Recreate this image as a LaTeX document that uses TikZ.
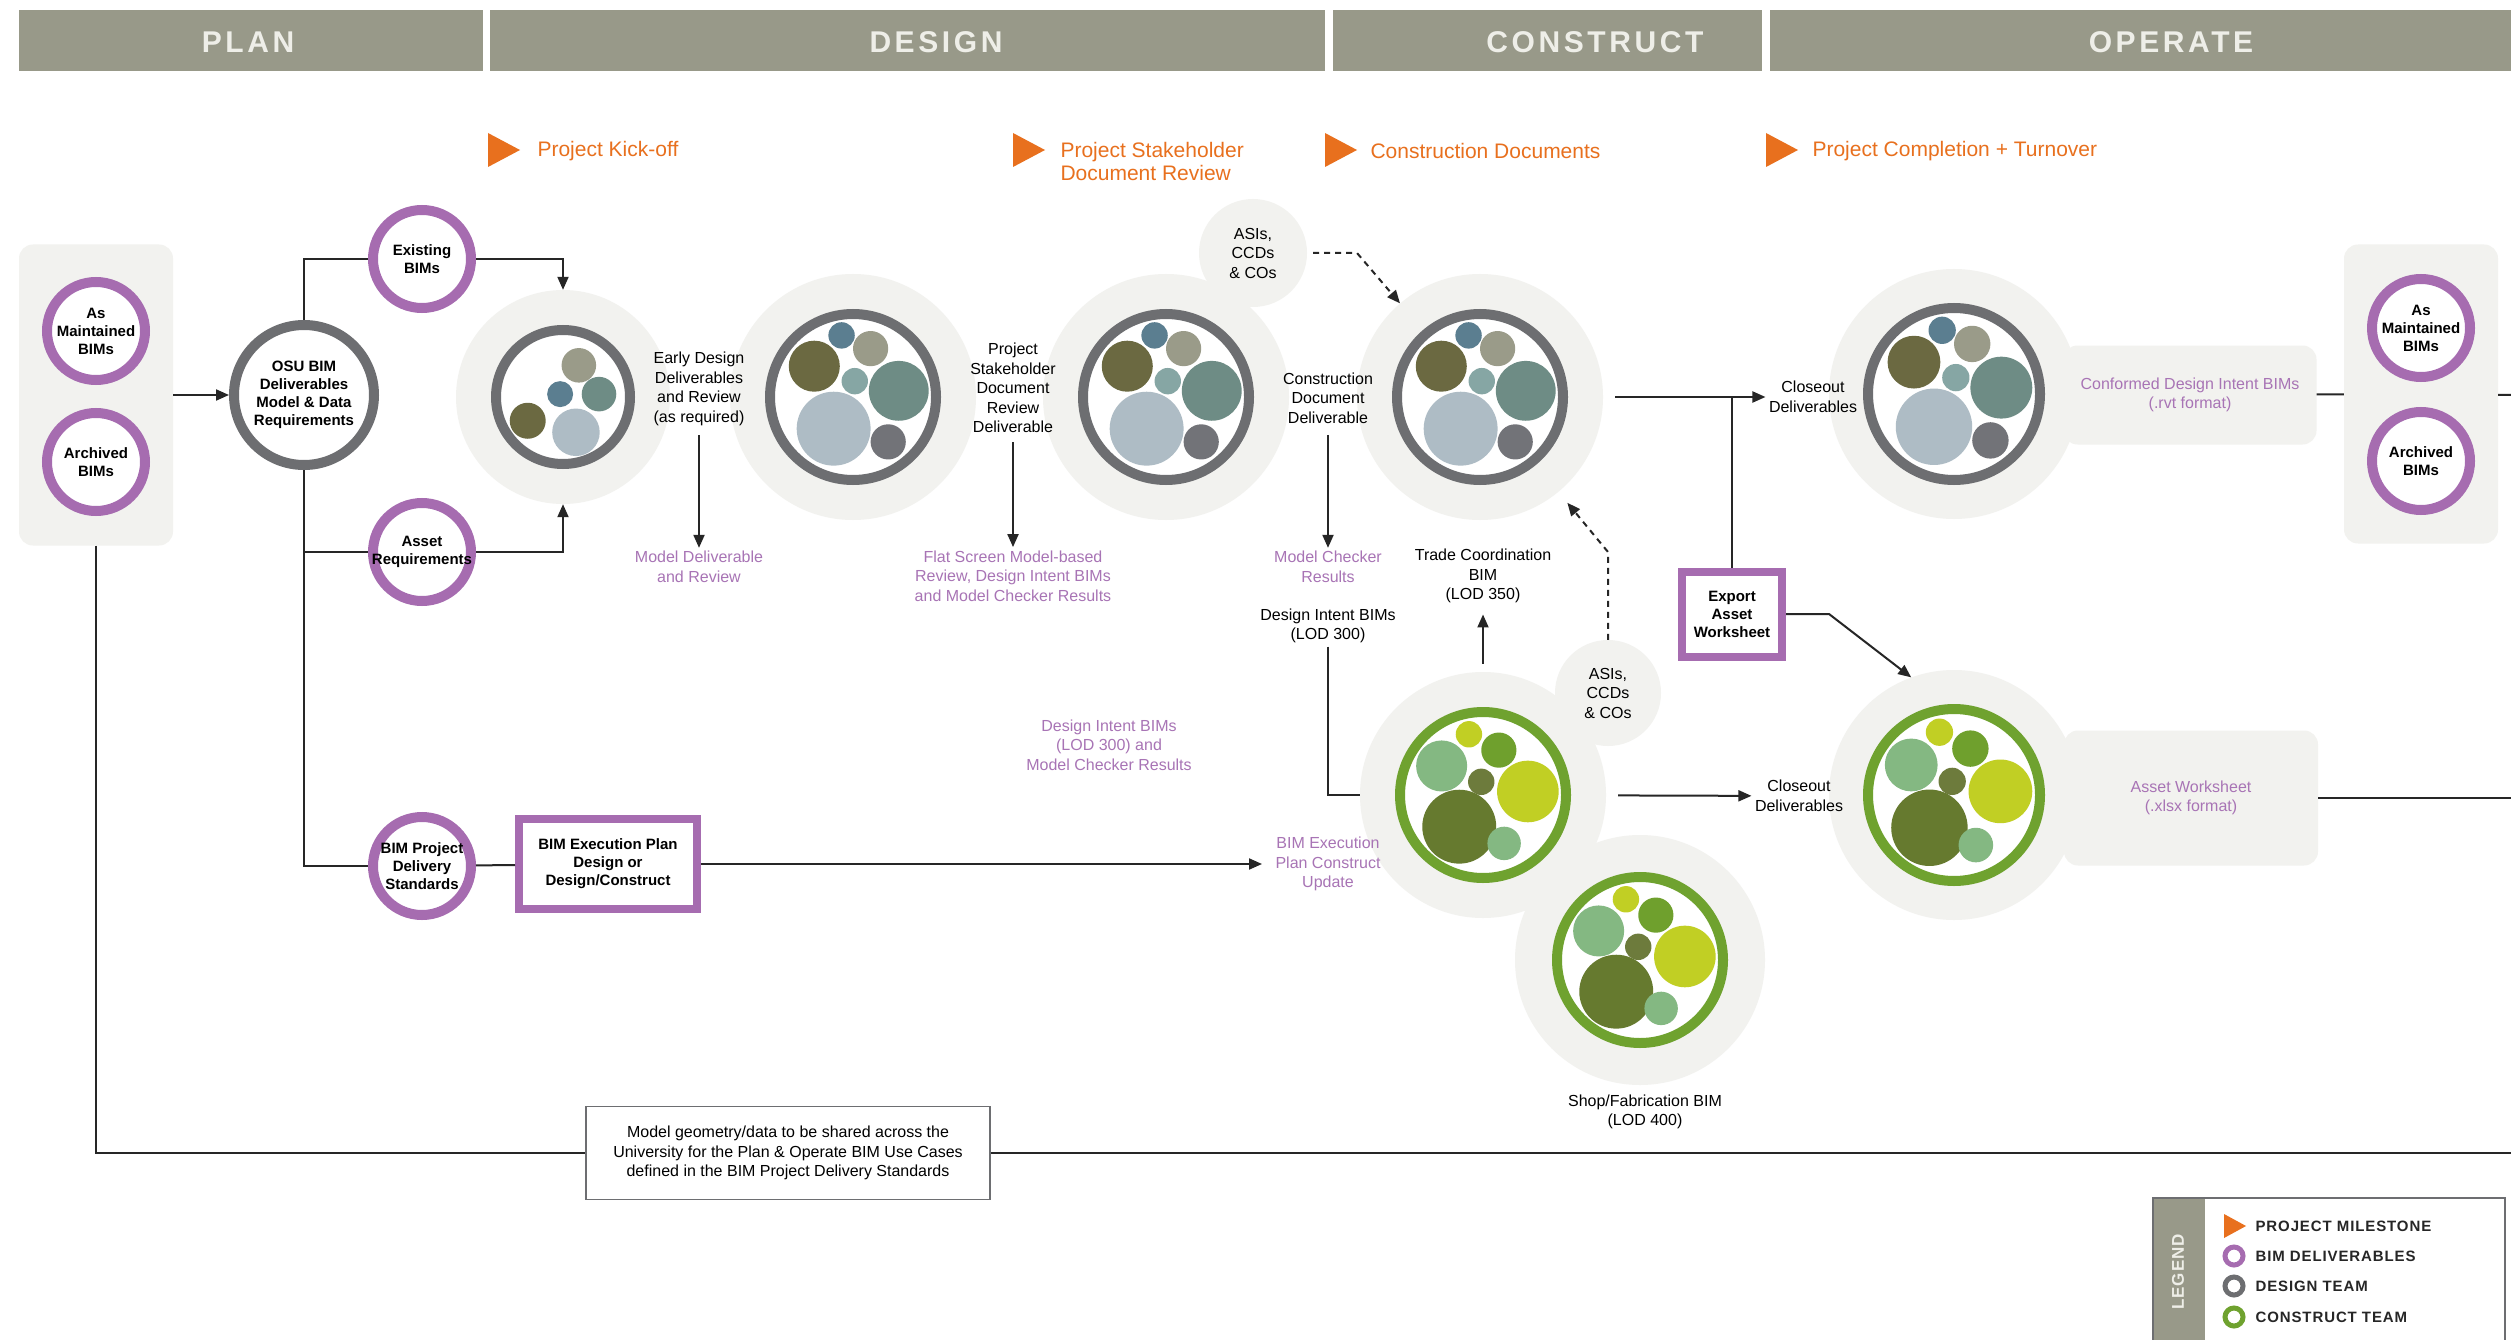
\documentclass[tikz,border=0pt]{standalone}
\usepackage{fontspec}
\setmainfont{Liberation Sans}
\newfontfamily\spacedfont[LetterSpace=12]{Liberation Sans}
\newfontfamily\legendfont[LetterSpace=6]{Liberation Sans}
\usetikzlibrary{positioning, arrows.meta, shapes.geometric}
\definecolor{phasegray}{HTML}{989989}
\definecolor{phasetext}{HTML}{EEEEE8}
\definecolor{halogray}{HTML}{F2F2EF}
\definecolor{bimpurple}{HTML}{A66CB0}
\definecolor{notepurple}{HTML}{A874B5}
\definecolor{designgray}{HTML}{6D6E71}
\definecolor{buildgreen}{HTML}{6FA22F}
\definecolor{milestone}{HTML}{E8701E}
\definecolor{bolive}{HTML}{6B6941}
\definecolor{bsteel}{HTML}{5B7E90}
\definecolor{bkhaki}{HTML}{9A9B89}
\definecolor{bteal}{HTML}{86A6A4}
\definecolor{bdeepteal}{HTML}{6E8C85}
\definecolor{bfog}{HTML}{AEBCC5}
\definecolor{bslate}{HTML}{727378}
\definecolor{glime}{HTML}{C1CF24}
\definecolor{gmid}{HTML}{6FA02D}
\definecolor{gsage}{HTML}{84B882}
\definecolor{gmoss}{HTML}{6D7B3C}
\definecolor{gforest}{HTML}{667A2F}
\tikzstyle{phasebar} = [rectangle, fill=phasegray, minimum height=61pt, inner sep=0pt]
\tikzstyle{phaselabel} = [text=phasetext, font=\spacedfont\bfseries\fontsize{30}{30}\selectfont]
\tikzstyle{milestonetext} = [anchor=west, align=left, text=milestone, font=\fontsize{21}{23}\selectfont]
\tikzstyle{halo} = [circle, fill=halogray, inner sep=0pt]
\tikzstyle{bimring} = [circle, draw=bimpurple, line width=10pt, fill=white, minimum size=98pt,
inner sep=-8pt, align=center, font=\bfseries\fontsize{15}{18}\selectfont]
\tikzstyle{designring} = [circle, draw=designgray, line width=10pt, fill=white, inner sep=0pt]
\tikzstyle{buildring} = [circle, draw=buildgreen, line width=10pt, fill=white, inner sep=0pt]
\tikzstyle{bimbox} = [rectangle, draw=bimpurple, line width=8pt, fill=white, align=center,
font=\bfseries\fontsize{15}{18}\selectfont]
\tikzstyle{graybox} = [rectangle, rounded corners=14pt, fill=halogray, inner sep=0pt]
\tikzstyle{note} = [align=center, font=\fontsize{16}{19.5}\selectfont]
\tikzstyle{pnote} = [note, text=notepurple]
\tikzstyle{link} = [line width=2pt, draw=black!85]
\tikzstyle{arrow} = [link, ->, >={Triangle[length=13pt, width=11pt]}]
\tikzstyle{dasharrow} = [arrow, dash pattern=on 6pt off 5pt]
\tikzstyle{legendtext} = [anchor=west, text=black!85, font=\legendfont\bfseries\fontsize{15}{15}\selectfont]
% bubble clusters: centre x, centre y, ring radius
\newcommand{\smallbubbles}[3]{%
  \begin{scope}[shift={(#1,#2)}, x=#3pt, y=-#3pt]
    \fill[bkhaki] (0.22,-0.44) circle (0.24);
    \fill[bsteel] (-0.04,-0.04) circle (0.18);
    \fill[bdeepteal] (0.5,-0.04) circle (0.24);
    \fill[bolive] (-0.49,0.33) circle (0.25);
    \fill[bfog] (0.18,0.49) circle (0.33);
  \end{scope}}
\newcommand{\designbubbles}[3]{%
  \begin{scope}[shift={(#1,#2)}, x=#3pt, y=-#3pt]
    \fill[bsteel] (-0.13,-0.70) circle (0.15);
    \fill[bkhaki] (0.2,-0.55) circle (0.2);
    \fill[bolive] (-0.44,-0.35) circle (0.29);
    \fill[bteal] (0.02,-0.18) circle (0.15);
    \fill[bdeepteal] (0.52,-0.07) circle (0.34);
    \fill[bfog] (-0.22,0.36) circle (0.42);
    \fill[bslate] (0.4,0.51) circle (0.2);
  \end{scope}}
\newcommand{\buildbubbles}[3]{%
  \begin{scope}[shift={(#1,#2)}, x=#3pt, y=-#3pt]
    \fill[glime] (-0.16,-0.69) circle (0.15);
    \fill[gmid] (0.18,-0.51) circle (0.2);
    \fill[gsage] (-0.47,-0.33) circle (0.29);
    \fill[gmoss] (-0.02,-0.15) circle (0.15);
    \fill[glime] (0.51,-0.04) circle (0.35);
    \fill[gforest] (-0.27,0.36) circle (0.42);
    \fill[gsage] (0.24,0.55) circle (0.19);
  \end{scope}}

\begin{document}
\begin{tikzpicture}[x=1pt, y=-1pt]
\useasboundingbox (0,0) rectangle (2511,1340);
\fill[white] (0,0) rectangle (2511,1340);

% phases
\node[phasebar, minimum width=464pt] (plan) at (251,41) {};
\node[phasebar, minimum width=835pt] (design) at (907.5,41) {};
\node[phasebar, minimum width=429pt] (construct) at (1547.5,41) {};
\node[phasebar, minimum width=741pt] (operate) at (2140.5,41) {};
\node[phaselabel] (tplan) at (248,42) {PLAN};
\node[phaselabel] (tdesign) at (936,42) {DESIGN};
\node[phaselabel] (tconstruct) at (1595,42) {CONSTRUCT};
\node[phaselabel] (toperate) at (2171,42) {OPERATE};

% milestones
\foreach \mx in {488,1013,1325,1766}
  \fill[milestone] (\mx,133) -- (\mx+32,150) -- (\mx,167) -- cycle;
\node[milestonetext] (kickoff) at (534,151) {Project Kick-off};
\node[milestonetext] (review) at (1057,161) {Project Stakeholder\\Document Review};
\node[milestonetext] (cdocs) at (1367,151) {Construction Documents};
\node[milestonetext] (turnover) at (1809,151) {Project Completion + Turnover};

% plan column
\node[graybox, minimum width=154pt, minimum height=301pt] (asisl) at (96,395) {};
\node[bimring] (maintl) at (96,331) {As\\Maintained\\BIMs};
\node[bimring] (archl) at (96,462) {Archived\\BIMs};
\node[designring, minimum size=140pt, align=center, font=\bfseries\fontsize{15}{18}\selectfont] (osu) at (304,395)
  {OSU BIM\\Deliverables\\Model \& Data\\Requirements};
\node[bimring] (exist) at (422,259) {Existing\\BIMs};
\node[bimring] (assetreq) at (422,552) {Asset\\Requirements};
\node[bimring] (pds) at (422,866) {BIM Project\\Delivery\\Standards};

% halos
\node[halo, minimum size=214pt] (h1) at (563,397) {};
\node[halo, minimum size=246pt] (h2) at (853,397) {};
\node[halo, minimum size=246pt] (h3) at (1166,397) {};
\node[halo, minimum size=246pt] (h4) at (1480,397) {};
\node[halo, minimum size=250pt] (h5) at (1954,394) {};
\node[halo, minimum size=246pt] (gh1) at (1483,795) {};
\node[halo, minimum size=250pt] (gh2) at (1954,795) {};
\node[halo, minimum size=250pt] (gh3) at (1640,960) {};
\node[halo, minimum size=108pt, note] (asi1) at (1253,253) {ASIs,\\CCDs\\\& COs};
\node[halo, minimum size=106pt, note] (asi2) at (1608,693) {ASIs,\\CCDs\\\& COs};

% operate column
\node[graybox, minimum width=253pt, minimum height=99pt, pnote] (conf) at (2190,395)
  {Conformed Design Intent BIMs\\(.rvt format)};
\node[graybox, minimum width=254pt, minimum height=135pt, pnote] (assetws) at (2191,798)
  {Asset Worksheet\\(.xlsx format)};
\node[graybox, minimum width=154pt, minimum height=299pt] (asisr) at (2421,394) {};
\node[bimring] (maintr) at (2421,328) {As\\Maintained\\BIMs};
\node[bimring] (archr) at (2421,461) {Archived\\BIMs};

% team rings
\node[designring, minimum size=134pt] (d1) at (h1) {};
\node[designring, minimum size=166pt] (d2) at (h2) {};
\node[designring, minimum size=166pt] (d3) at (h3) {};
\node[designring, minimum size=166pt] (d4) at (h4) {};
\node[designring, minimum size=172pt] (d5) at (h5) {};
\node[buildring, minimum size=166pt] (b1) at (gh1) {};
\node[buildring, minimum size=172pt] (b2) at (gh2) {};
\node[buildring, minimum size=166pt] (b3) at (gh3) {};
\smallbubbles{563}{397}{72}
\designbubbles{853}{397}{88}
\designbubbles{1166}{397}{88}
\designbubbles{1480}{397}{88}
\designbubbles{1954}{394}{91}
\buildbubbles{1483}{795}{88}
\buildbubbles{1954}{795}{91}
\buildbubbles{1640}{960}{88}

% notes
\node[note] (early) at (699,389) {Early Design\\Deliverables\\and Review\\(as required)};
\node[pnote] (mdr) at (699,567) {Model Deliverable\\and Review};
\node[note] (psdr) at (1013,388) {Project\\Stakeholder\\Document\\Review\\Deliverable};
\node[pnote] (flat) at (1013,576) {Flat Screen Model-based\\Review, Design Intent BIMs\\and Model Checker Results};
\node[note] (cdd) at (1328,398) {Construction\\Document\\Deliverable};
\node[pnote] (mcr) at (1328,567) {Model Checker\\Results};
\node[note] (dib) at (1328,626) {Design Intent BIMs\\(LOD 300)};
\node[note] (tcb) at (1483,576) {Trade Coordination\\BIM\\(LOD 350)};
\node[note] (close1) at (1813,397) {Closeout\\Deliverables};
\node[bimbox, minimum width=100pt, minimum height=85pt] (export) at (1732,614) {Export\\Asset\\Worksheet};
\node[pnote] (dimcr) at (1109,745) {Design Intent BIMs\\(LOD 300) and\\Model Checker Results};
\node[bimbox, minimum width=178pt, minimum height=90pt] (bep) at (608,864) {BIM Execution Plan\\Design or\\Design/Construct};
\node[pnote] (bepu) at (1328,864) {BIM Execution\\Plan Construct\\Update};
\node[note] (close2) at (1799,796) {Closeout\\Deliverables};
\node[note] (shop) at (1645,1112) {Shop/Fabrication BIM\\(LOD 400)};
\node[note, draw=designgray, line width=1.5pt, minimum width=404pt, minimum height=93pt] (geo) at (788,1153)
  {Model geometry/data to be shared across the\\University for the Plan \& Operate BIM Use Cases\\defined in the BIM Project Delivery Standards};

% connectors
\coordinate (asibend1) at (1357,253);
\coordinate (asibend2) at (1608,552);
\coordinate (exportbend) at (1829,614);
\coordinate (edgetop) at (2511,395);
\coordinate (edgemid) at (2511,798);
\coordinate (edgelow) at (2511,1153);
\draw[arrow] (asisl) -- (osu);
\draw[link] (osu) |- (exist);
\draw[link] (osu) |- (pds);
\draw[link] (osu.south |- assetreq) -- (assetreq);
\draw[arrow] (exist) -| (h1);
\draw[arrow] (assetreq) -| (h1);
\draw[arrow, shorten <=6pt] (early) -- (mdr);
\draw[arrow, shorten <=6pt] (psdr) -- (flat);
\draw[arrow, shorten <=8pt] (cdd) -- (mcr);
\draw[dasharrow, shorten <=6pt] (asi1) -- (asibend1) -- (h4);
\draw[link] (dib) |- (gh1);
\draw[arrow, shorten <=8pt, shorten >=8pt] (gh1) -- (tcb);
\draw[dasharrow, shorten >=14pt] (asi2) -- (asibend2) -- (h4);
\draw[arrow, shorten <=12pt] (h4) -- (close1);
\draw[link] (export) -- (export |- h4);
\draw[arrow] (export) -- (exportbend) -- (gh2.110);
\draw[link] (conf) -- (asisr);
\draw[link] (asisr) -- (edgetop);
\draw[arrow, shorten <=12pt] (gh1) -- (close2);
\draw[link] (assetws) -- (edgemid);
\draw[link] (pds) -- (bep);
\draw[arrow, shorten >=10pt] (bep) -- (bepu);
\draw[link] (asisl) |- (geo);
\draw[link] (geo) -- (edgelow);

% legend
\node[fill=phasegray, minimum width=53pt, minimum height=170pt, anchor=north west, inner sep=0pt] (legendbar) at (2152,1197) {};
\node[draw=designgray, line width=1.5pt, minimum width=352pt, minimum height=170pt, anchor=north west, inner sep=0pt] (legend) at (2152,1197) {};
\node[rotate=90, text=phasetext, font=\legendfont\bfseries\fontsize{17}{17}\selectfont] (legendtitle) at (2178,1272) {LEGEND};
\fill[milestone] (2224,1214) -- (2246,1226) -- (2224,1238) -- cycle;
\draw[bimpurple, line width=5pt] (2234,1256) circle (9);
\draw[designgray, line width=5pt] (2234,1286) circle (9);
\draw[buildgreen, line width=5pt] (2234,1317) circle (9);
\node[legendtext] (legmile) at (2252,1226) {PROJECT MILESTONE};
\node[legendtext] (legbim) at (2252,1256) {BIM DELIVERABLES};
\node[legendtext] (legdesign) at (2252,1286) {DESIGN TEAM};
\node[legendtext] (legbuild) at (2252,1317) {CONSTRUCT TEAM};
\end{tikzpicture}
\end{document}
